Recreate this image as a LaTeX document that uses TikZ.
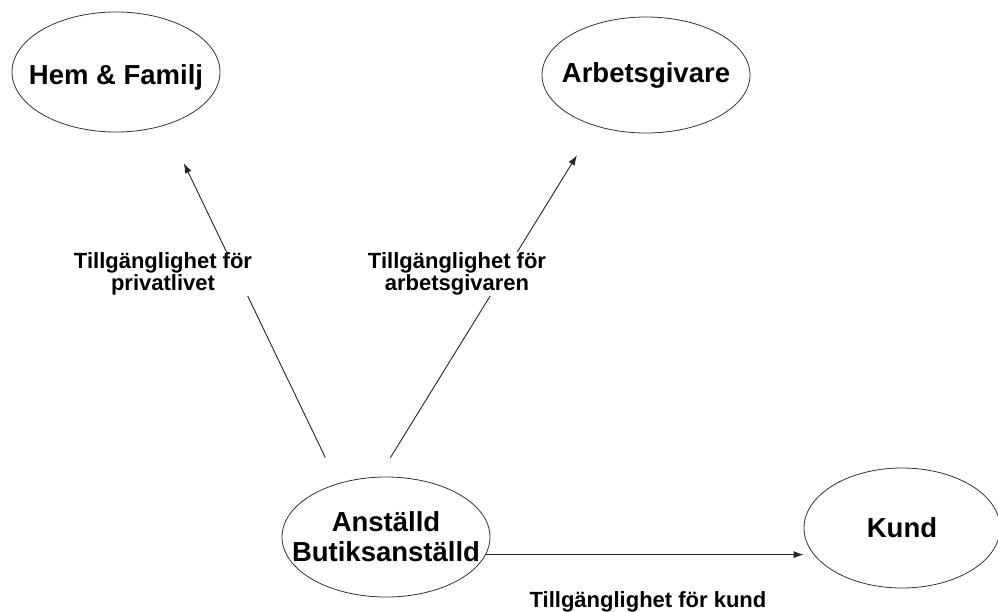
\documentclass[tikz,border=0pt]{standalone}
\usepackage{fontspec}
\setmainfont{Liberation Sans}
\usetikzlibrary{arrows.meta,shapes.geometric}
\tikzset{
  party/.style={
      ellipse,
      draw=black!80,
      line width=0.8pt,
      inner sep=0pt,
      minimum width=208pt,
      minimum height=120pt
  },
  partytext/.style={font=\fontsize{27.5}{30}\selectfont\bfseries, align=center},
  access/.style={font=\fontsize{22}{19.5}\selectfont\bfseries, align=center, fill=white, inner sep=0.5pt},
  flow/.style={-{Latex[length=10pt,width=7pt]}, line width=0.9pt, draw=black!85}
}

\begin{document}
\begin{tikzpicture}[x=1pt,y=-1pt]
    \useasboundingbox (0,0) rectangle (998,611);
    \node[party, label={[partytext, yshift=-5pt]center:Hem \& Familj}] (hem) at (116,72) {};
    \node[party, minimum height=116pt, label={[partytext]center:Arbetsgivare}] (arb) at (646,75) {};
    \node[party, label={[partytext]center:Anställd\\Butiksanställd}] (anst) at (386,537) {};
    \node[party, minimum width=196pt, label={[partytext]center:Kund}] (kund) at (902,528) {};

    \draw[flow, shorten <=28.8pt, shorten >=42.2pt] (anst.132.5) -- (hem.-47.4);
    \draw[flow, shorten <=22.5pt, shorten >=34.4pt] (anst.97.5) -- (arb.225.5);
    \draw[flow] (anst.-10.3) -- (anst.-10.3 -| kund.west);

    \node[access] (privat) at (163,274) {Tillgänglighet för\\privatlivet};
    \node[access] (arbtext) at (457,274) {Tillgänglighet för\\arbetsgivaren};
    \node[access, anchor=base] (kundtext) at (648,607) {Tillgänglighet för kund};
\end{tikzpicture}
\end{document}
